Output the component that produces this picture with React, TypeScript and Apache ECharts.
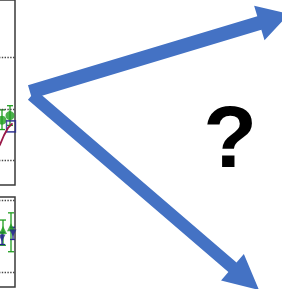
import React, { useEffect, useRef } from "react";
import * as echarts from "echarts";

// ---- data ----
const topGridlines = [1, 2, 3];
const topGreenX = [8.7, 9.5];
const topGreenY = [1.78, 1.87];
const topGreenLow = [1.6, 1.68];
const topGreenHigh = [1.98, 2.06];
const topLineX = [7.9, 8.5, 8.9, 9.3, 9.75];
const topLineY = [1.1, 1.31, 1.49, 1.63, 1.72];
const topBoxX = [9.6];
const topBoxY = [1.66];

const botGridlines = [1, 2];
const botGreenX = [8.8, 9.6];
const botGreenY = [1.58, 1.62];
const botGreenLow = [1.37, 1.28];
const botGreenHigh = [1.72, 1.82];
const botNavyX = [8.7, 9.8];
const botNavyY = [1.47, 1.54];
const botNavyLow = [1.38, 1.45];
const botNavyHigh = [1.55, 1.62];

const questionMark = "?";

const GREEN = "#1f9e1f";
const NAVY = "#23258c";
const CRIMSON = "#9a1848";
const BLUE = "#4472C4";

// the chart canvas extends this far to the left of the visible page
const OX = 200;

function arrowPoints(sx: number, sy: number, tx: number, ty: number, shaft: number, head: number, headLen: number) {
  const dx = tx - sx, dy = ty - sy;
  const L = Math.hypot(dx, dy);
  const ux = dx / L, uy = dy / L;
  const nx = -uy, ny = ux;
  const bx = tx - ux * headLen, by = ty - uy * headLen;
  const s = shaft / 2, h = head / 2;
  return [
    [sx + nx * s, sy + ny * s],
    [bx + nx * s, by + ny * s],
    [bx + nx * h, by + ny * h],
    [tx, ty],
    [bx - nx * h, by - ny * h],
    [bx - nx * s, by - ny * s],
    [sx - nx * s, sy - ny * s],
  ];
}

function errorBarSeries(xs: number[], ys: number[], lo: number[], hi: number[], color: string, axisIndex: number) {
  return {
    type: "custom",
    xAxisIndex: axisIndex,
    yAxisIndex: axisIndex,
    clip: true,
    data: xs.map((x, i) => [x, ys[i], lo[i], hi[i]]),
    renderItem: (params: any, api: any) => {
      const x = api.value(0);
      const p1 = api.coord([x, api.value(2)]);
      const p2 = api.coord([x, api.value(3)]);
      const cw = 3;
      const style = { stroke: color, lineWidth: 1.3 };
      return {
        type: "group",
        children: [
          { type: "line", shape: { x1: p1[0], y1: p1[1], x2: p2[0], y2: p2[1] }, style },
          { type: "line", shape: { x1: p1[0] - cw, y1: p1[1], x2: p1[0] + cw, y2: p1[1] }, style },
          { type: "line", shape: { x1: p2[0] - cw, y1: p2[1], x2: p2[0] + cw, y2: p2[1] }, style },
        ],
      };
    },
  };
}

function gridMark(vals: number[]) {
  return {
    silent: true,
    symbol: "none",
    label: { show: false },
    lineStyle: { type: "dotted", color: "#444", width: 1.4 },
    data: vals.map((v) => ({ yAxis: v })),
  };
}

export default function App() {
  const ref = useRef<HTMLDivElement>(null);
  useEffect(() => {
    if (!ref.current) return;
    const chart = echarts.init(ref.current, undefined, { renderer: "svg" });
    const hiddenAxis = {
      axisLine: { show: false },
      axisTick: { show: false },
      axisLabel: { show: false },
      splitLine: { show: false },
    };
    chart.setOption({
      animation: false,
      backgroundColor: "#ffffff",
      grid: [
        { left: OX - 85, right: 267, top: -20, bottom: 104, show: true, borderColor: "#3a3a3a", borderWidth: 1.5, backgroundColor: "transparent" },
        { left: OX - 85, right: 267, top: 197, bottom: 2, show: true, borderColor: "#3a3a3a", borderWidth: 1.5, backgroundColor: "transparent" },
      ],
      xAxis: [
        { type: "value", gridIndex: 0, min: 0, max: 10, ...hiddenAxis },
        { type: "value", gridIndex: 1, min: 0, max: 10, ...hiddenAxis },
      ],
      yAxis: [
        { type: "value", gridIndex: 0, min: 0.53, max: 4.1, ...hiddenAxis },
        { type: "value", gridIndex: 1, min: 0.79, max: 2.04, ...hiddenAxis },
      ],
      series: [
        {
          type: "line",
          xAxisIndex: 0,
          yAxisIndex: 0,
          data: topLineX.map((x, i) => [x, topLineY[i]]),
          showSymbol: false,
          lineStyle: { color: CRIMSON, width: 1.8 },
          markLine: gridMark(topGridlines),
        },
        errorBarSeries(topGreenX, topGreenY, topGreenLow, topGreenHigh, GREEN, 0),
        {
          type: "scatter",
          xAxisIndex: 0,
          yAxisIndex: 0,
          data: topGreenX.map((x, i) => [x, topGreenY[i]]),
          symbol: "circle",
          symbolSize: 9,
          itemStyle: { color: GREEN },
        },
        {
          type: "scatter",
          xAxisIndex: 0,
          yAxisIndex: 0,
          data: topBoxX.map((x, i) => [x, topBoxY[i]]),
          symbol: "rect",
          symbolSize: [9, 11],
          itemStyle: { color: "transparent", borderColor: NAVY, borderWidth: 1.5 },
        },
        {
          type: "line",
          xAxisIndex: 1,
          yAxisIndex: 1,
          data: [],
          markLine: gridMark(botGridlines),
        },
        errorBarSeries(botGreenX, botGreenY, botGreenLow, botGreenHigh, GREEN, 1),
        errorBarSeries(botNavyX, botNavyY, botNavyLow, botNavyHigh, NAVY, 1),
        {
          type: "scatter",
          xAxisIndex: 1,
          yAxisIndex: 1,
          data: botGreenX.map((x, i) => [x, botGreenY[i]]),
          symbol: "triangle",
          symbolSize: 8,
          itemStyle: { color: GREEN },
        },
        {
          type: "scatter",
          xAxisIndex: 1,
          yAxisIndex: 1,
          data: botNavyX.map((x, i) => [x, botNavyY[i]]),
          symbol: "triangle",
          symbolRotate: 180,
          symbolSize: 7,
          itemStyle: { color: NAVY },
        },
      ],
      graphic: [
        {
          type: "group",
          x: OX,
          y: 0,
          z: 100,
          children: [
            {
              type: "polygon",
              shape: { points: arrowPoints(30, 92, 289, 14, 14, 36, 31) },
              style: { fill: BLUE },
            },
            {
              type: "polygon",
              shape: { points: arrowPoints(32, 95, 259, 290, 12.5, 35, 35) },
              style: { fill: BLUE },
            },
            {
              type: "text",
              x: 230,
              y: 136,
              style: {
                text: questionMark,
                fontFamily: "Liberation Sans, Arial, sans-serif",
                fontWeight: "bold",
                fontSize: 88,
                fill: "#000000",
                align: "center",
                verticalAlign: "middle",
              },
            },
          ],
        },
      ],
    });
    return () => chart.dispose();
  }, []);
  return (
    <div
      ref={ref}
      style={{ position: "fixed", left: -OX, top: 0, width: 282 + OX, height: 289 }}
    />
  );
}
